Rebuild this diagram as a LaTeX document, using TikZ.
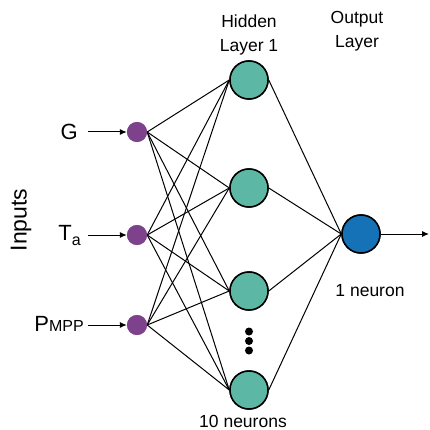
\documentclass[tikz,border=0pt]{standalone}
\usepackage{fontspec}
\setmainfont{Liberation Sans}
\usetikzlibrary{arrows.meta}
\definecolor{inpurple}{HTML}{7E418C}
\definecolor{hidteal}{HTML}{5CB8A4}
\definecolor{outblue}{HTML}{1572B6}
\begin{document}
\begin{tikzpicture}[x=1pt,y=-1pt,
  inp/.style={circle,fill=inpurple,minimum size=20pt,inner sep=0pt},
  hid/.style={circle,draw=black,line width=1.5pt,fill=hidteal,minimum size=38pt,inner sep=0pt},
  outn/.style={circle,draw=black,line width=1.5pt,fill=outblue,minimum size=38pt,inner sep=0pt},
  conn/.style={line width=1pt},
  inarrow/.style={line width=1pt,-{Latex[length=7pt,width=6pt]}},
  lbl/.style={font=\fontsize{17.5}{24.5}\selectfont,align=center},
  onelbl/.style={font=\fontsize{17.5}{20}\selectfont,inner sep=0pt,anchor=base,text depth=0pt},
  inlbl/.style={font=\fontsize{22}{26}\selectfont,anchor=base east,inner sep=0pt},
  dotn/.style={circle,fill=black,minimum size=8pt,inner sep=0pt}]
\useasboundingbox (0,0) rectangle (430,430);
% input nodes
\node[inp] (i1) at (137,132) {};
\node[inp] (i2) at (137,235) {};
\node[inp] (i3) at (137,325) {};
% hidden
\node[hid] (h1) at (249,80) {};
\node[hid] (h2) at (249,188) {};
\node[hid] (h3) at (249,291) {};
\node[hid] (h4) at (249,390) {};
% output
\node[outn] (o) at (361,234) {};
% connections
\foreach \i in {i1,i2,i3}{
  \foreach \h in {h1,h2,h3,h4}{
    \draw[conn] (\i.east) -- (\h.west);
  }
}
\foreach \h in {h1,h2,h3,h4}{
  \draw[conn] (\h.east) -- (o.west);
}
% redraw nodes on top
\node[inp] at (i1) {};
\node[inp] at (i2) {};
\node[inp] at (i3) {};
\node[hid] at (h1) {};
\node[hid] at (h2) {};
\node[hid] at (h3) {};
\node[hid] at (h4) {};
\node[outn] at (o) {};
% output arrow
\coordinate (oend) at (429,234);
\draw[line width=1pt,-{Latex[length=7pt,width=6pt]}] (o.east) -- (oend);
% input labels and arrows
\node[inlbl] (lG) at (78,140) {G};
\node[inlbl] (lT) at (81,240.5) {T\raisebox{-0.22em}{\fontsize{16}{18}\selectfont a}};
\node[inlbl] (lP) at (84,331) {P\raisebox{-0.02em}{\fontsize{16}{18}\selectfont MPP}};
\coordinate (aG) at (88,132);
\coordinate (aT) at (88,235);
\coordinate (aP) at (88,325);
\draw[inarrow] (aG) -- (i1.west);
\draw[inarrow] (aT) -- (i2.west);
\draw[inarrow] (aP) -- (i3.west);
% dots
\node[dotn] (d1) at (249,331.5) {};
\node[dotn] (d2) at (249,341) {};
\node[dotn] (d3) at (249,350.5) {};
% text labels
\node[lbl] (th) at (249,35) {Hidden\\Layer 1};
\node[lbl] (to) at (357,31) {Output\\Layer};
\node[onelbl] (t1) at (370,296) {1 neuron};
\node[onelbl] (t10) at (243,427.5) {10 neurons};
\node[font=\fontsize{23}{26}\selectfont,rotate=90] (tin) at (21,220) {Inputs};
\end{tikzpicture}
\end{document}
